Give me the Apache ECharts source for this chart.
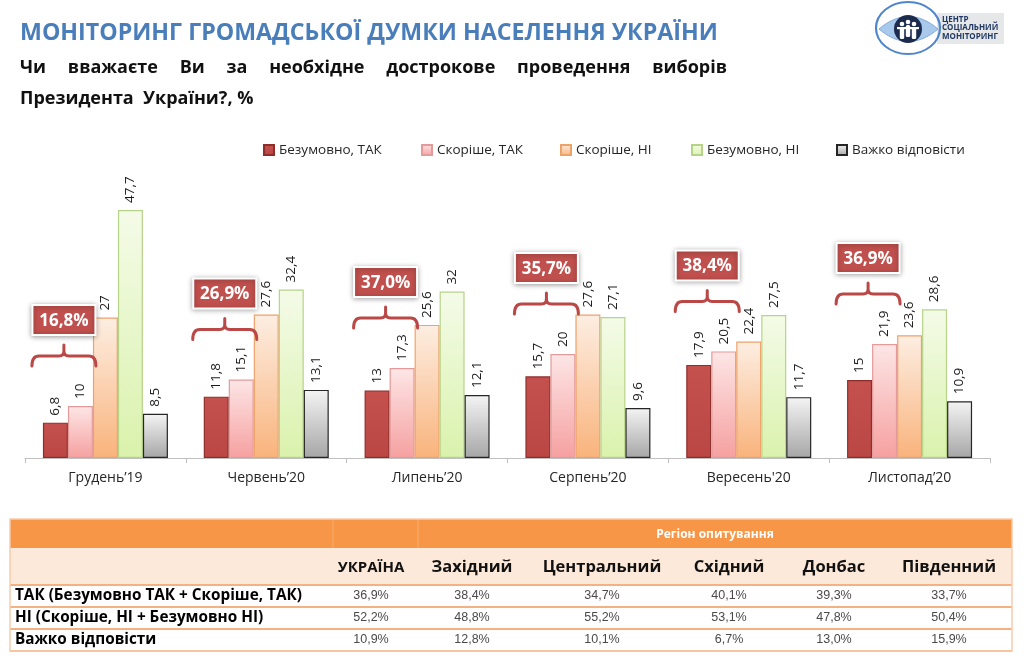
<!DOCTYPE html>
<html><head><meta charset="utf-8">
<script src="https://cdn.jsdelivr.net/npm/echarts@6/dist/echarts.min.js"></script>
<style>html,body{margin:0;padding:0;background:#fff}#c{width:1024px;height:670px}</style>
</head><body><div id="c"></div>
<script>
// ---------- DATA ----------
var categories = ['Грудень’19', 'Червень’20', 'Липень’20', 'Серпень’20', "Вересень'20", 'Листопад’20'];
var seriesNames = ['Безумовно, ТАК', 'Скоріше, ТАК', 'Скоріше, НІ', 'Безумовно, НІ', 'Важко відповісти'];
var definitelyYes = [6.8, 11.8, 13, 15.7, 17.9, 15];
var ratherYes = [10, 15.1, 17.3, 20, 20.5, 21.9];
var ratherNo = [27, 27.6, 25.6, 27.6, 22.4, 23.6];
var definitelyNo = [47.7, 32.4, 32, 27.1, 27.5, 28.6];
var hardToSay = [8.5, 13.1, 12.1, 9.6, 11.7, 10.9];
var yesTotals = [16.8, 26.9, 37.0, 35.7, 38.4, 36.9];

var tableColumns = ['УКРАЇНА', 'Західний', 'Центральний', 'Східний', 'Донбас', 'Південний'];
var tableRowLabels = ['ТАК (Безумовно ТАК + Скоріше, ТАК)', 'НІ (Скоріше, НІ + Безумовно НІ)', 'Важко відповісти'];
var tableYes = [36.9, 38.4, 34.7, 40.1, 39.3, 33.7];
var tableNo = [52.2, 48.8, 55.2, 53.1, 47.8, 50.4];
var tableHard = [10.9, 12.8, 10.1, 6.7, 13.0, 15.9];
var regionHeader = 'Регіон опитування';

var titleText = 'МОНІТОРИНГ ГРОМАДСЬКОЇ ДУМКИ НАСЕЛЕННЯ УКРАЇНИ';
var questionLine1 = 'Чи вважаєте Ви за необхідне дострокове проведення виборів';
var questionLine2 = 'Президента  України?, %';
var logoLines = ['ЦЕНТР', 'СОЦІАЛЬНИЙ', 'МОНІТОРИНГ'];

// ---------- HELPERS ----------
var FONT = '"Open Sans", "Noto Sans", sans-serif';
var mctx = document.createElement('canvas').getContext('2d');
function measure(text, size, weight) {
  mctx.font = (weight || 'normal') + ' ' + size + 'px ' + FONT;
  return mctx.measureText(text).width;
}
function fmtComma(v) { return String(v).replace('.', ','); }
function fmtPct(v) { return v.toFixed(1).replace('.', ',') + '%'; }
function grad(c0, c1) {
  return { type: 'linear', x: 0, y: 0, x2: 0, y2: 1, colorStops: [{ offset: 0, color: c0 }, { offset: 1, color: c1 }] };
}

var styles = [
  { color: grad('#C4514E', '#BA4744'), borderColor: '#8E2E2B' },
  { color: grad('#FDE6E6', '#F6A0A0'), borderColor: '#E39A9A' },
  { color: grad('#FDEEE2', '#F9B37C'), borderColor: '#EFA268' },
  { color: grad('#F4FBE8', '#DAF2AC'), borderColor: '#B7D388' },
  { color: grad('#F4F4F4', '#A6A6A6'), borderColor: '#262626' }
];
var seriesData = [definitelyYes, ratherYes, ratherNo, definitelyNo, hardToSay];

var series = seriesData.map(function (arr, i) {
  return {
    name: seriesNames[i],
    type: 'bar',
    barWidth: 25,
    barGap: '0%',
    data: arr,
    itemStyle: { color: styles[i].color, borderColor: styles[i].borderColor, borderWidth: 1.2 },
    label: {
      show: true, position: 'top', rotate: 90, align: 'left', verticalAlign: 'middle', distance: 7,
      fontFamily: FONT, fontSize: 13.5, color: '#1a1a1a',
      formatter: function (p) { return fmtComma(p.value); }
    },
    emphasis: { disabled: true }
  };
});

// callouts (bracket + red box) drawn through the axis scales
var calloutData = categories.map(function (c, i) {
  return [i, Math.max(definitelyYes[i], ratherYes[i]), yesTotals[i]];
});
series.push({
  type: 'custom',
  z: 10,
  silent: true,
  data: calloutData,
  renderItem: function (params, api) {
    var idx = api.value(0);
    var top = api.coord([idx, api.value(1)]);
    var base = api.coord([idx, 0]);
    var cx = base[0];
    var bw = 25;
    var x1 = cx - 2.5 * bw - 11, x2 = cx - 0.5 * bw + 3;
    var ly = top[1] - 50;
    var mx = (x1 + x2) / 2;
    var pd = 'M' + x1 + ' ' + (ly + 10) + ' Q' + x1 + ' ' + ly + ' ' + (x1 + 7) + ' ' + ly +
      ' L' + (mx - 5) + ' ' + ly + ' Q' + mx + ' ' + ly + ' ' + mx + ' ' + (ly - 5) +
      ' L' + mx + ' ' + (ly - 11) +
      ' M' + mx + ' ' + (ly - 5) + ' Q' + mx + ' ' + ly + ' ' + (mx + 5) + ' ' + ly +
      ' L' + (x2 - 7) + ' ' + ly + ' Q' + x2 + ' ' + ly + ' ' + x2 + ' ' + (ly + 10);
    var bh = 30, bwid = 63;
    var by = ly - 21 - bh;
    return {
      type: 'group',
      children: [
        { type: 'path', shape: { pathData: pd }, style: { fill: 'none', stroke: '#B94846', lineWidth: 3, lineCap: 'round' } },
        { type: 'rect', shape: { x: mx - bwid / 2, y: by, width: bwid, height: bh },
          style: { fill: '#C0504D', stroke: '#FFFFFF', lineWidth: 2, shadowBlur: 5, shadowColor: 'rgba(0,0,0,0.35)', shadowOffsetY: 1 } },
        { type: 'text', x: mx, y: by + bh / 2 + 1,
          style: { text: fmtPct(api.value(2)), fill: '#FFFFFF', font: 'bold 17px ' + FONT, align: 'center', verticalAlign: 'middle' } }
      ]
    };
  }
});

// ---------- GRAPHIC (titles, logo, table) ----------
var g = [];
var titleSize = 20 * 698 / measure(titleText, 20, 'bold');
g.push({ type: 'text', x: 20, y: 33, style: { text: titleText, font: 'bold ' + titleSize.toFixed(2) + 'px ' + FONT, fill: '#4A7EBB', verticalAlign: 'middle' } });

(function () {
  var words = questionLine1.split(' ');
  var size = 18;
  var widths = words.map(function (w) { return measure(w, size, 'bold'); });
  var total = widths.reduce(function (a, b) { return a + b; }, 0);
  var gap = (727 - 20 - total) / (words.length - 1);
  var x = 20;
  words.forEach(function (w, i) {
    g.push({ type: 'text', x: x, y: 68, style: { text: w, font: 'bold ' + size + 'px ' + FONT, fill: '#111', verticalAlign: 'middle' } });
    x += widths[i] + gap;
  });
  g.push({ type: 'text', x: 20, y: 99, style: { text: questionLine2, font: 'bold ' + size + 'px ' + FONT, fill: '#111', verticalAlign: 'middle' } });
})();

// logo
g.push({ type: 'rect', shape: { x: 937, y: 13, width: 67, height: 31 }, style: { fill: '#E6E7E9' } });
(function () {
  var pts = [];
  var n = 24, x0 = 879, x1 = 938, yc = 29, h = 12.5;
  for (var k = 0; k <= n; k++) { var t = k / n; pts.push([x0 + (x1 - x0) * t, yc - 4 * h * t * (1 - t)]); }
  for (var k2 = n - 1; k2 > 0; k2--) { var t2 = k2 / n; pts.push([x0 + (x1 - x0) * t2, yc + 4 * h * t2 * (1 - t2)]); }
  g.push({ type: 'polygon', shape: { points: pts }, style: { fill: '#A8C8EC', stroke: '#7FAADC', lineWidth: 1 } });
})();
g.push({ type: 'circle', x: 908, y: 28, scaleX: 32 / 26, shape: { cx: 0, cy: 0, r: 26 }, style: { fill: 'none', stroke: '#4F86CB', lineWidth: 1.8 } });
g.push({ type: 'circle', shape: { cx: 908, cy: 29, r: 14 }, style: { fill: '#1D2B4F' } });
[[902, 24], [908, 22], [914, 24]].forEach(function (p) {
  g.push({ type: 'circle', shape: { cx: p[0], cy: p[1], r: 2.3 }, style: { fill: '#FFFFFF' } });
  g.push({ type: 'rect', shape: { x: p[0] - 2.2, y: p[1] + 3, width: 4.4, height: 12, r: 1.5 }, style: { fill: '#FFFFFF' } });
});
g.push({ type: 'rect', shape: { x: 897, y: 27, width: 22, height: 2.2 }, style: { fill: '#FFFFFF' } });
logoLines.forEach(function (t, i) {
  g.push({ type: 'text', x: 942, y: 19.5 + i * 8.5, style: { text: t, font: 'bold 8px ' + FONT, fill: '#1F3864', verticalAlign: 'middle' } });
});

// table
var tL = 10, tR = 1012, tW = tR - tL;
var colCenters = [371, 472, 602, 729, 834, 949];
var h1y = 519, h1h = 29, h2y = 548, h2h = 37, rowY = [585, 607, 629], rowH = 22;
g.push({ type: 'rect', shape: { x: tL, y: h1y, width: tW, height: h1h }, style: { fill: '#F79646' } });
g.push({ type: 'rect', shape: { x: tL, y: h2y, width: tW, height: h2h }, style: { fill: '#FDE9D9' } });
[333, 418].forEach(function (x) {
  g.push({ type: 'line', shape: { x1: x, y1: h1y, x2: x, y2: h1y + h1h }, style: { stroke: 'rgba(255,230,210,0.3)', lineWidth: 1 } });
});
rowY.forEach(function (y) {
  g.push({ type: 'rect', shape: { x: tL, y: y, width: tW, height: rowH }, style: { fill: '#FFFFFF' } });
});
[h2y + h2h, rowY[1], rowY[2], rowY[2] + rowH].forEach(function (y) {
  g.push({ type: 'line', shape: { x1: tL, y1: y, x2: tR, y2: y }, style: { stroke: '#F4B183', lineWidth: 2 } });
});
g.push({ type: 'rect', shape: { x: tL, y: h1y, width: tW, height: rowY[2] + rowH - h1y }, style: { fill: 'none', stroke: '#F8CBAD', lineWidth: 1.5 } });
g.push({ type: 'text', x: 715, y: h1y + h1h / 2 + 1, style: { text: regionHeader, font: 'bold 12px ' + FONT, fill: '#FFFFFF', align: 'center', verticalAlign: 'middle' } });
tableColumns.forEach(function (c, i) {
  g.push({ type: 'text', x: colCenters[i], y: h2y + h2h / 2 + 1, style: { text: c, font: 'bold ' + (i === 0 ? 15 : 16.5) + 'px ' + FONT, fill: '#111', align: 'center', verticalAlign: 'middle' } });
});
var tableVals = [tableYes, tableNo, tableHard];
tableRowLabels.forEach(function (lab, r) {
  var cy = rowY[r] + rowH / 2;
  g.push({ type: 'text', x: 15, y: cy, style: { text: lab, font: 'bold 15.3px ' + FONT, fill: '#000', verticalAlign: 'middle' } });
  tableVals[r].forEach(function (v, i) {
    g.push({ type: 'text', x: colCenters[i], y: cy, style: { text: fmtPct(v), font: '12.5px "Liberation Sans", Arial, sans-serif', fill: '#4a4a4a', align: 'center', verticalAlign: 'middle' } });
  });
});

// ---------- LEGENDS ----------
var legendLefts = [263, 421, 560, 691, 836];
var legends = seriesNames.map(function (n, i) {
  return {
    data: [n], left: legendLefts[i], top: 143, padding: 0, itemWidth: 10, itemHeight: 10, itemGap: 5,
    icon: 'rect', selectedMode: false,
    textStyle: { fontFamily: FONT, fontSize: 13.5, color: '#262626' }
  };
});

var chart = echarts.init(document.getElementById('c'), null, { renderer: 'canvas' });
chart.setOption({
  animation: false,
  backgroundColor: '#FFFFFF',
  legend: legends,
  grid: { left: 25, right: 34, top: 198, bottom: 212, containLabel: false },
  xAxis: {
    type: 'category', data: categories,
    axisLine: { lineStyle: { color: '#BFBFBF', width: 1 } },
    axisTick: { show: true, length: 5, lineStyle: { color: '#BFBFBF' } },
    axisLabel: { fontFamily: FONT, fontSize: 14, color: '#262626', margin: 13 }
  },
  yAxis: { type: 'value', min: 0, max: 50, show: false, splitLine: { show: false } },
  series: series,
  graphic: { elements: g }
});
</script>
</body></html>
